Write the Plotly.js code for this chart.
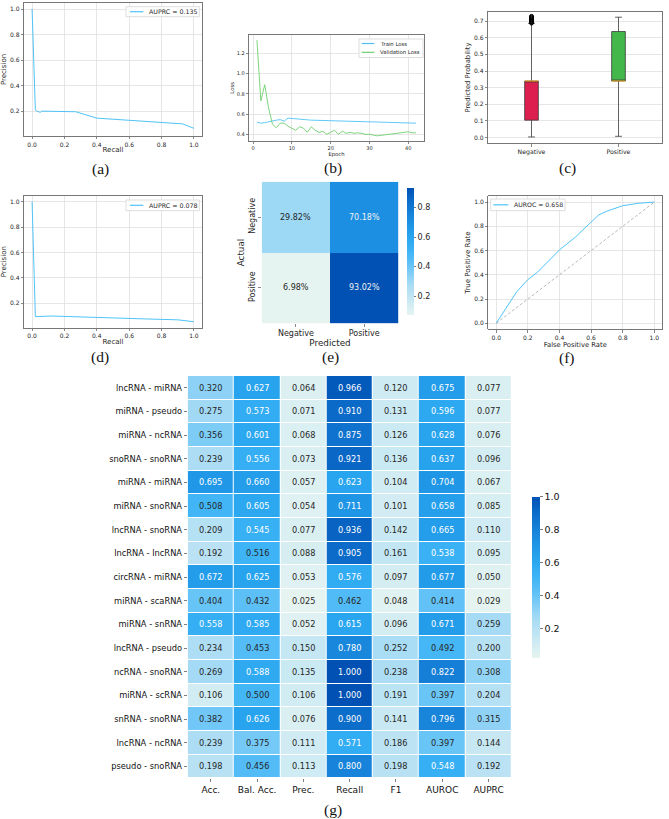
<!DOCTYPE html>
<html>
<head>
<meta charset="utf-8">
<script src="https://cdn.plot.ly/plotly-3.0.1.min.js"></script>
<style>
  html, body { margin: 0; padding: 0; background: #fff; }
  #fig { width: 669px; height: 819px; }
</style>
</head>
<body>
<div id="fig"></div>
<script>
// ---------- (a) precision-recall curve ----------
const recallA    = [0, 0.02, 0.03, 0.05, 0.06, 0.25, 0.27, 0.40, 0.60, 0.80, 0.93, 1.0];
const precisionA = [1.0, 0.21, 0.20, 0.19, 0.20, 0.20, 0.195, 0.145, 0.13, 0.11, 0.10, 0.065];
const auprcA = 0.135;

// ---------- (b) training curves ----------
const epochs = [1,2,3,4,5,6,7,8,9,10,11,12,13,14,15,16,17,18,19,20,21,22,23,24,25,26,27,28,29,30,31,32,33,34,35,36,37,38,39,40,41,42];
const trainLoss = [0.52,0.51,0.515,0.525,0.53,0.54,0.545,0.53,0.56,0.558,0.552,0.548,0.545,0.543,0.54,0.539,0.538,0.536,0.535,0.533,0.532,0.531,0.53,0.529,0.528,0.527,0.526,0.525,0.524,0.523,0.522,0.522,0.521,0.521,0.52,0.519,0.518,0.516,0.514,0.512,0.511,0.51];
const valLoss = [1.33,0.73,0.89,0.66,0.50,0.465,0.51,0.51,0.48,0.46,0.44,0.475,0.46,0.42,0.475,0.44,0.42,0.43,0.40,0.42,0.44,0.40,0.43,0.41,0.42,0.41,0.415,0.41,0.40,0.40,0.39,0.385,0.39,0.395,0.40,0.405,0.41,0.415,0.42,0.425,0.415,0.415];

// ---------- (c) predicted probability distribution ----------
const boxClasses = ['Negative', 'Positive'];
const boxQ1      = [0.105, 0.34];
const boxMedian  = [0.34, 0.34];
const boxQ3      = [0.34, 0.637];
const boxLow     = [0.004, 0.008];
const boxHigh    = [0.686, 0.723];
const negOutliers = [0.688, 0.692, 0.696, 0.700, 0.704, 0.708, 0.712, 0.716, 0.720, 0.724, 0.728];

// ---------- (d) precision-recall curve ----------
const recallD    = [0, 0.02, 0.12, 0.30, 0.50, 0.70, 0.90, 1.0];
const precisionD = [1.0, 0.095, 0.10, 0.095, 0.085, 0.077, 0.07, 0.055];
const auprcD = 0.078;

// ---------- (e) confusion matrix (row-normalised) ----------
const cmLabels = ['Negative', 'Positive'];
const cmRowNeg = [0.2982, 0.7018];
const cmRowPos = [0.0698, 0.9302];

// ---------- (f) ROC curve ----------
const fpr = [0, 0.05, 0.10, 0.13, 0.20, 0.26, 0.40, 0.50, 0.60, 0.65, 0.70, 0.80, 0.90, 1.0];
const tpr = [0, 0.10, 0.19, 0.26, 0.36, 0.42, 0.605, 0.71, 0.835, 0.895, 0.925, 0.97, 0.99, 1.0];
const chance = [0, 1];
const auroc = 0.658;

// ---------- (g) per-pair metrics ----------
const pairs = ['lncRNA - miRNA','miRNA - pseudo','miRNA - ncRNA','snoRNA - snoRNA','miRNA - miRNA','miRNA - snoRNA','lncRNA - snoRNA','lncRNA - lncRNA','circRNA - miRNA','miRNA - scaRNA','miRNA - snRNA','lncRNA - pseudo','ncRNA - snoRNA','miRNA - scRNA','snRNA - snoRNA','lncRNA - ncRNA','pseudo - snoRNA'];
const metrics = ['Acc.', 'Bal. Acc.', 'Prec.', 'Recall', 'F1', 'AUROC', 'AUPRC'];
const acc    = [0.320,0.275,0.356,0.239,0.695,0.508,0.209,0.192,0.672,0.404,0.558,0.234,0.269,0.106,0.382,0.239,0.198];
const balAcc = [0.627,0.573,0.601,0.556,0.660,0.605,0.545,0.516,0.625,0.432,0.585,0.453,0.588,0.500,0.626,0.375,0.456];
const prec   = [0.064,0.071,0.068,0.073,0.057,0.054,0.077,0.088,0.053,0.025,0.052,0.150,0.135,0.106,0.076,0.111,0.113];
const recall = [0.966,0.910,0.875,0.921,0.623,0.711,0.936,0.905,0.576,0.462,0.615,0.780,1.000,1.000,0.900,0.571,0.800];
const f1     = [0.120,0.131,0.126,0.136,0.104,0.101,0.142,0.161,0.097,0.048,0.096,0.252,0.238,0.191,0.141,0.186,0.198];
const aurocs = [0.675,0.596,0.628,0.637,0.704,0.658,0.665,0.538,0.677,0.414,0.671,0.492,0.822,0.397,0.796,0.397,0.548];
const auprcs = [0.077,0.077,0.076,0.096,0.067,0.085,0.110,0.095,0.050,0.029,0.259,0.200,0.308,0.204,0.315,0.144,0.192];

// ================= styling & layout helpers =================
const W = 669, H = 819;
const fx = p => p / W;
const fy = p => 1 - p / H;
const FONT = 'DejaVu Sans, Liberation Sans, sans-serif';
const TXT = '#262626';
const BLUE = '#4FC3F7';
const GREEN = '#6FCF6F';
const SKY = [
  [0.00, '#e6f4f1'], [0.10, '#cdeaf3'], [0.25, '#a4daf5'], [0.40, '#62c2f7'],
  [0.50, '#3fb4f6'], [0.60, '#2aa7f0'], [0.70, '#1f96e6'], [0.80, '#1782d9'],
  [0.90, '#0c6cca'], [1.00, '#0051b3']
];

function ax(extra) {
  return Object.assign({
    showline: true, mirror: true, linecolor: '#555', linewidth: 0.8,
    ticks: 'outside', ticklen: 2.5, tickwidth: 0.7, tickcolor: '#555',
    showgrid: true, gridcolor: '#dcdcdc', gridwidth: 0.7, zeroline: false,
    tickfont: { family: FONT, size: 6, color: TXT }, fixedrange: true, automargin: false
  }, extra);
}
function ttl(text, size, standoff) {
  return { text: text, font: { family: FONT, size: size, color: TXT }, standoff: standoff };
}
const unit5 = [0, 0.2, 0.4, 0.6, 0.8, 1.0];

const traces = [];
// (a)
traces.push({ x: recallA, y: precisionA, xaxis: 'x', yaxis: 'y', mode: 'lines', line: { color: BLUE, width: 1 }, hoverinfo: 'skip' });
// (b)
traces.push({ x: epochs, y: trainLoss, xaxis: 'x2', yaxis: 'y2', mode: 'lines', line: { color: BLUE, width: 0.9 }, hoverinfo: 'skip' });
traces.push({ x: epochs, y: valLoss, xaxis: 'x2', yaxis: 'y2', mode: 'lines', line: { color: GREEN, width: 0.9 }, hoverinfo: 'skip' });
// (c)
const boxFill = ['#DC1F4F', '#44B74A'];
const boxW = 0.157;
boxClasses.forEach((c, i) => {
  traces.push({
    type: 'box', x: [i + 1], q1: [boxQ1[i]], median: [boxMedian[i]], q3: [boxQ3[i]],
    lowerfence: [boxLow[i]], upperfence: [boxHigh[i]], width: boxW, whiskerwidth: 0.5,
    fillcolor: boxFill[i], line: { color: '#3a3a3a', width: 0.8 }, boxpoints: false,
    xaxis: 'x3', yaxis: 'y3', hoverinfo: 'skip'
  });
  traces.push({
    x: [i + 1 - boxW / 2, i + 1 + boxW / 2], y: [boxMedian[i], boxMedian[i]],
    mode: 'lines', line: { color: '#F5A623', width: 1 }, xaxis: 'x3', yaxis: 'y3', hoverinfo: 'skip'
  });
});
traces.push({
  x: negOutliers.map(() => 1), y: negOutliers, mode: 'markers', xaxis: 'x3', yaxis: 'y3',
  marker: { symbol: 'circle-open', size: 4, color: '#000', line: { width: 1, color: '#000' } }, hoverinfo: 'skip'
});
// (d)
traces.push({ x: recallD, y: precisionD, xaxis: 'x4', yaxis: 'y4', mode: 'lines', line: { color: BLUE, width: 1 }, hoverinfo: 'skip' });
// (e)
traces.push({
  type: 'heatmap', z: [cmRowNeg, cmRowPos], x: cmLabels, y: cmLabels, xaxis: 'x5', yaxis: 'y5',
  colorscale: SKY, hoverinfo: 'skip',
  colorbar: {
    x: fx(406.7), xanchor: 'left', xpad: 0, ypad: 0, thickness: 7.3,
    y: fy(188.3), yanchor: 'top', len: (315.7 - 188.3) / H, lenmode: 'fraction',
    outlinewidth: 0, ticks: 'outside', ticklen: 2.5, tickwidth: 0.7, tickcolor: '#444',
    tickvals: [0.2, 0.4, 0.6, 0.8], ticktext: ['0.2', '0.4', '0.6', '0.8'],
    tickfont: { family: FONT, size: 8, color: TXT }
  }
});
// (f)
traces.push({ x: chance, y: chance, xaxis: 'x6', yaxis: 'y6', mode: 'lines', line: { color: '#8a8a8a', width: 0.6, dash: '3px,2px' }, hoverinfo: 'skip' });
traces.push({ x: fpr, y: tpr, xaxis: 'x6', yaxis: 'y6', mode: 'lines', line: { color: BLUE, width: 1 }, hoverinfo: 'skip' });
// (g)
const cols = [acc, balAcc, prec, recall, f1, aurocs, auprcs];
const zG = pairs.map((_, i) => cols.map(c => c[i]));
traces.push({
  type: 'heatmap', z: zG, x: metrics, y: pairs, xaxis: 'x7', yaxis: 'y7',
  colorscale: SKY, xgap: 1, ygap: 1, hoverinfo: 'skip',
  colorbar: {
    x: fx(532.3), xanchor: 'left', xpad: 0, ypad: 0, thickness: 8.4,
    y: fy(496.7), yanchor: 'top', len: (657.7 - 496.7) / H, lenmode: 'fraction',
    outlinewidth: 0, ticks: 'outside', ticklen: 3, tickwidth: 0.7, tickcolor: '#444',
    tickvals: [0.2, 0.4, 0.6, 0.8, 1.0], ticktext: ['0.2', '0.4', '0.6', '0.8', '1.0'],
    tickfont: { family: FONT, size: 9.5, color: '#111' }
  }
});

// ---------- annotations: cell values, legends, captions ----------
const ann = [];
zG.forEach((row, i) => row.forEach((v, j) => {
  ann.push({ x: metrics[j], y: pairs[i], xref: 'x7', yref: 'y7', text: v.toFixed(3), showarrow: false,
    font: { family: FONT, size: 8.2, color: v > 0.525 ? '#ffffff' : TXT } });
}));
[cmRowNeg, cmRowPos].forEach((row, i) => row.forEach((v, j) => {
  ann.push({ x: cmLabels[j], y: cmLabels[i], xref: 'x5', yref: 'y5', text: (v * 100).toFixed(2) + '%', showarrow: false,
    font: { family: FONT, size: 8, color: v > 0.5 ? '#f2f2f2' : TXT } });
}));

const shapes = [];
function legendBox(x0, y0, x1, y1) {
  shapes.push({ type: 'rect', xref: 'paper', yref: 'paper', x0: fx(x0), x1: fx(x1), y0: fy(y1), y1: fy(y0),
    fillcolor: 'rgba(255,255,255,0.9)', line: { color: '#d4d4d4', width: 0.8 }, layer: 'above' });
}
function legendItem(xs, xe, yc, color, label, size) {
  shapes.push({ type: 'line', xref: 'paper', yref: 'paper', x0: fx(xs), x1: fx(xe), y0: fy(yc), y1: fy(yc),
    line: { color: color, width: 1.2 }, layer: 'above' });
  ann.push({ x: fx(xe + 4), y: fy(yc), xref: 'paper', yref: 'paper', xanchor: 'left', yanchor: 'middle',
    text: label, showarrow: false, font: { family: FONT, size: size, color: TXT } });
}
legendBox(126, 6.7, 199.3, 16.7);
legendItem(130, 143.3, 11.7, BLUE, 'AUPRC = ' + auprcA.toFixed(3), 6.3);
legendBox(359, 39, 423, 57.5);
legendItem(361.7, 374.3, 43.5, BLUE, 'Train Loss', 5.3);
legendItem(361.7, 374.3, 52.3, GREEN, 'Validation Loss', 5.3);
legendBox(126, 200, 199.3, 210.7);
legendItem(130, 143.3, 205.3, BLUE, 'AUPRC = ' + auprcD.toFixed(3), 6.3);
legendBox(490.7, 199, 565, 210.7);
legendItem(493.3, 508.3, 204.8, BLUE, 'AUROC = ' + auroc.toFixed(3), 6.2);

const captions = [['(a)', 100, 169], ['(b)', 333, 168], ['(c)', 567, 168], ['(d)', 100, 357], ['(e)', 330, 357], ['(f)', 567, 358], ['(g)', 333, 810]];
captions.forEach(c => ann.push({ x: fx(c[1]), y: fy(c[2]), xref: 'paper', yref: 'paper', text: c[0], showarrow: false,
  xanchor: 'center', yanchor: 'middle', borderpad: 0, font: { family: 'Liberation Serif, DejaVu Serif, serif', size: 15.5, color: '#111' } }));

const layout = {
  width: W, height: H, margin: { l: 0, r: 0, t: 0, b: 0 },
  paper_bgcolor: '#ffffff', plot_bgcolor: '#ffffff', showlegend: false,
  font: { family: FONT, color: TXT },
  // (a)
  xaxis: ax({ domain: [fx(24), fx(202)], range: [-0.05, 1.05], tickvals: unit5, tickformat: '.1f', anchor: 'y', title: ttl('Recall', 7, 0) }),
  yaxis: ax({ domain: [fy(136), fy(3)], range: [0.005, 1.047], tickvals: [0.2, 0.4, 0.6, 0.8, 1.0], tickformat: '.1f', anchor: 'x', title: ttl('Precision', 7, 2) }),
  // (b)
  xaxis2: ax({ domain: [fx(249), fx(424)], range: [-1.05, 44.05], tickvals: [0, 10, 20, 30, 40], anchor: 'y2', tickfont: { family: FONT, size: 5, color: TXT }, title: ttl('Epoch', 5.3, 0) }),
  yaxis2: ax({ domain: [fy(140.7), fy(35)], range: [0.337, 1.381], tickvals: [0.4, 0.6, 0.8, 1.0, 1.2], tickformat: '.1f', anchor: 'x2', tickfont: { family: FONT, size: 5, color: TXT }, title: ttl('Loss', 5.3, 1) }),
  // (c)
  xaxis3: ax({ domain: [fx(488), fx(662)], range: [0.5, 2.5], tickvals: [1, 2], ticktext: boxClasses, showgrid: false, anchor: 'y3', tickfont: { family: FONT, size: 6.2, color: TXT } }),
  yaxis3: ax({ domain: [fy(143.3), fy(11.7)], range: [-0.034, 0.756], tickvals: [0, 0.1, 0.2, 0.3, 0.4, 0.5, 0.6, 0.7], tickformat: '.1f', anchor: 'x3', title: ttl('Predicted Probability', 6.8, 2) }),
  // (d)
  xaxis4: ax({ domain: [fx(24), fx(202)], range: [-0.05, 1.05], tickvals: unit5, tickformat: '.1f', anchor: 'y4', title: ttl('Recall', 7, 0) }),
  yaxis4: ax({ domain: [fy(327.7), fy(195.7)], range: [0.008, 1.047], tickvals: [0.2, 0.4, 0.6, 0.8, 1.0], tickformat: '.1f', anchor: 'x4', title: ttl('Precision', 7, 2) }),
  // (e)
  xaxis5: { domain: [fx(261.7), fx(398.3)], anchor: 'y5', showgrid: false, zeroline: false, showline: false, ticks: 'outside', ticklen: 2.5, tickcolor: '#555', tickwidth: 0.7,
    tickfont: { family: FONT, size: 8, color: TXT }, title: ttl('Predicted', 8.8, 0), fixedrange: true, automargin: false },
  yaxis5: { domain: [fy(323.3), fy(181.7)], anchor: 'x5', autorange: 'reversed', showgrid: false, zeroline: false, showline: false, ticks: 'outside', ticklen: 2.5, tickcolor: '#555', tickwidth: 0.7,
    tickangle: -90, tickfont: { family: FONT, size: 8, color: TXT }, title: ttl('Actual', 8.8, 1), fixedrange: true, automargin: false },
  // (f)
  xaxis6: ax({ domain: [fx(488.3), fx(662.3)], range: [-0.05, 1.05], tickvals: unit5, tickformat: '.1f', anchor: 'y6', title: ttl('False Positive Rate', 6.8, 0) }),
  yaxis6: ax({ domain: [fy(329.3), fy(196)], range: [-0.05, 1.05], tickvals: unit5, tickformat: '.1f', anchor: 'x6', title: ttl('True Positive Rate', 7, 2) }),
  // (g)
  xaxis7: { domain: [fx(187.7), fx(511.7)], anchor: 'y7', showgrid: false, zeroline: false, showline: false, ticks: 'outside', ticklen: 3, tickcolor: '#444', tickwidth: 0.7,
    tickfont: { family: FONT, size: 9, color: '#111' }, fixedrange: true, automargin: false },
  yaxis7: { domain: [fy(778.3), fy(376)], anchor: 'x7', autorange: 'reversed', showgrid: false, zeroline: false, showline: false, ticks: 'outside', ticklen: 3, tickcolor: '#444', tickwidth: 0.7,
    tickfont: { family: FONT, size: 8.3, color: '#111' }, fixedrange: true, automargin: false },
  annotations: ann,
  shapes: shapes
};

Plotly.newPlot('fig', traces, layout, { staticPlot: true, displayModeBar: false });
</script>
</body>
</html>
